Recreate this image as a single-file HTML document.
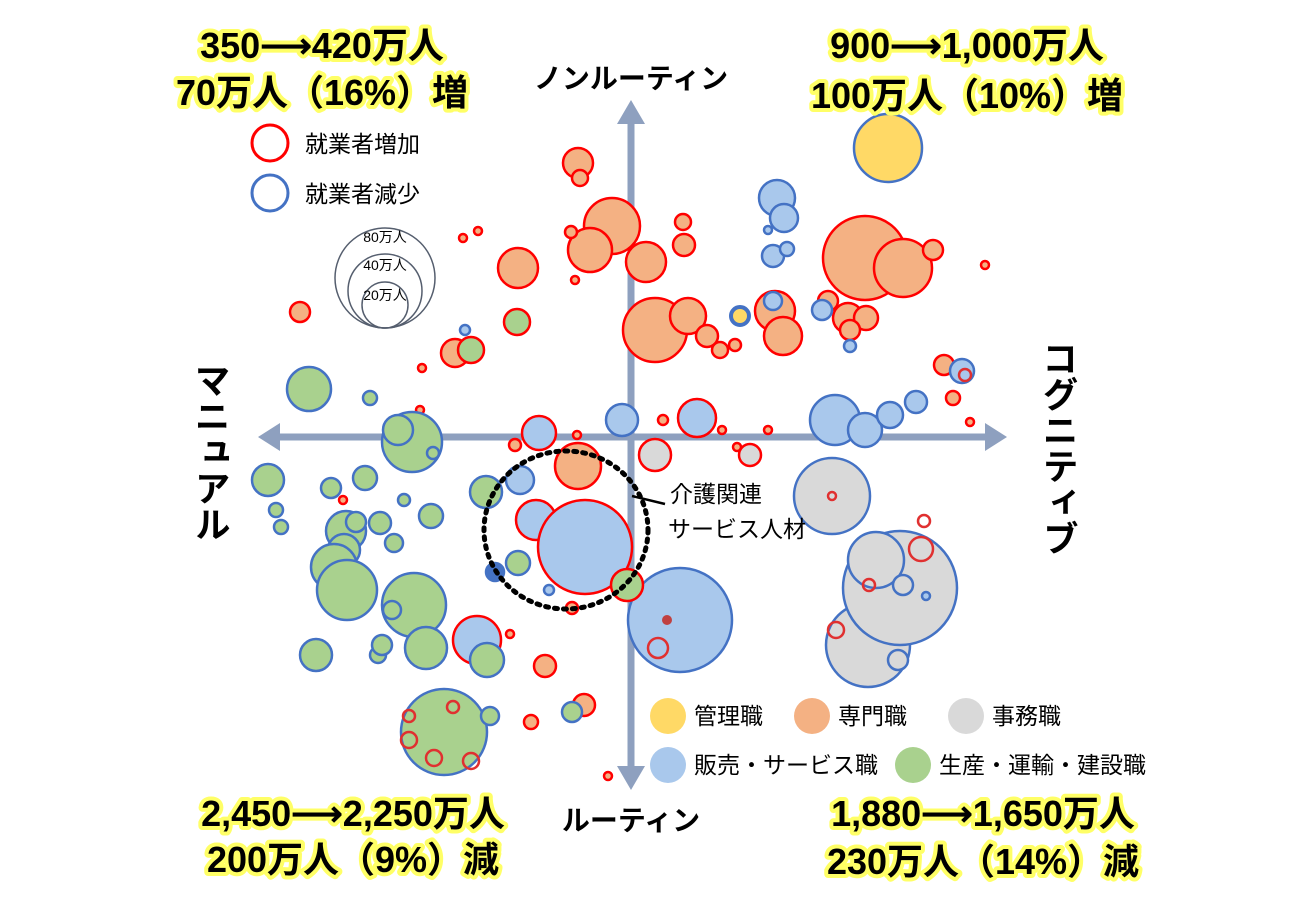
<!DOCTYPE html>
<html><head><meta charset="utf-8"><style>
html,body{margin:0;padding:0;background:#fff;}
svg text{font-family:"Liberation Sans","Noto Sans CJK JP",sans-serif;}
.big{font-size:36px;font-weight:bold;fill:#000;paint-order:stroke;stroke:#ffff66;stroke-width:8px;stroke-linejoin:round;}
</style></head><body>
<svg width="1300" height="900" viewBox="0 0 1300 900" xmlns="http://www.w3.org/2000/svg">
<g stroke="#8ea0bf" stroke-width="7">
<line x1="275" y1="437" x2="990" y2="437"/>
<line x1="631" y1="120" x2="631" y2="770"/>
</g>
<g fill="#8ea0bf">
<polygon points="258,437 280,423 280,451"/>
<polygon points="1007,437 985,423 985,451"/>
<polygon points="631,100 617,124 645,124"/>
<polygon points="631,790 617,766 645,766"/>
</g>
<g id="b" stroke-width="2.5">
<circle cx="888" cy="148" r="34" fill="#ffd966" stroke="#4472c4"/>
<g fill="#f4b183" stroke="#ff0000">
<circle cx="578" cy="163" r="15"/><circle cx="580" cy="178" r="8"/><circle cx="612" cy="226" r="28"/><circle cx="590" cy="250" r="22"/><circle cx="518" cy="268" r="20"/><circle cx="646" cy="262" r="20"/><circle cx="683" cy="222" r="8"/><circle cx="684" cy="245" r="11"/><circle cx="655" cy="330" r="32"/><circle cx="688" cy="316" r="18"/><circle cx="707" cy="336" r="11"/><circle cx="720" cy="350" r="8"/><circle cx="735" cy="345" r="6"/><circle cx="775" cy="311" r="20"/><circle cx="783" cy="336" r="19"/><circle cx="865" cy="258" r="42"/><circle cx="903" cy="268" r="29"/><circle cx="933" cy="250" r="10"/><circle cx="985" cy="265" r="4"/><circle cx="463" cy="238" r="4"/><circle cx="478" cy="231" r="4"/><circle cx="571" cy="232" r="6"/><circle cx="575" cy="280" r="4"/><circle cx="300" cy="312" r="10"/><circle cx="455" cy="353" r="14"/><circle cx="422" cy="368" r="4"/><circle cx="944" cy="365" r="10"/><circle cx="953" cy="398" r="7"/><circle cx="970" cy="422" r="4"/><circle cx="663" cy="420" r="5"/><circle cx="722" cy="430" r="4"/><circle cx="737" cy="447" r="4"/><circle cx="768" cy="430" r="4"/><circle cx="828" cy="301" r="10"/><circle cx="848" cy="318" r="15"/><circle cx="866" cy="318" r="12"/><circle cx="850" cy="330" r="10"/><circle cx="577" cy="435" r="4"/><circle cx="515" cy="445" r="6"/><circle cx="578" cy="466" r="23"/><circle cx="545" cy="666" r="11"/><circle cx="584" cy="705" r="11"/><circle cx="531" cy="722" r="7"/><circle cx="608" cy="776" r="4"/><circle cx="343" cy="500" r="4"/><circle cx="349" cy="518" r="4"/><circle cx="420" cy="410" r="4"/><circle cx="572" cy="608" r="6"/><circle cx="510" cy="634" r="4"/>
</g>
<g fill="#d9d9d9">
<circle cx="832" cy="496" r="38" stroke="#4472c4"/><circle cx="868" cy="645" r="42" stroke="#4472c4"/><circle cx="900" cy="588" r="57" stroke="#4472c4"/><circle cx="876" cy="560" r="28" stroke="#4472c4"/><circle cx="898" cy="660" r="10" stroke="#4472c4"/><circle cx="903" cy="585" r="10" stroke="#4472c4"/><circle cx="655" cy="455" r="16" stroke="#ff0000"/><circle cx="750" cy="455" r="11" stroke="#ff0000"/>
</g>
<g fill="#a9c8ec" stroke="#4472c4">
<circle cx="777" cy="198" r="18"/><circle cx="784" cy="218" r="14"/><circle cx="773" cy="256" r="11"/><circle cx="787" cy="249" r="7"/><circle cx="773" cy="301" r="9"/><circle cx="822" cy="310" r="10"/><circle cx="850" cy="346" r="6"/><circle cx="835" cy="420" r="25"/><circle cx="865" cy="430" r="17"/><circle cx="890" cy="415" r="13"/><circle cx="916" cy="402" r="11"/><circle cx="962" cy="371" r="12"/><circle cx="622" cy="420" r="16"/><circle cx="520" cy="480" r="14"/><circle cx="549" cy="590" r="5"/><circle cx="680" cy="620" r="52"/><circle cx="495" cy="572" r="9" fill="#4472c4"/><circle cx="465" cy="330" r="5"/><circle cx="768" cy="230" r="4"/><circle cx="926" cy="596" r="4"/>
</g>
<g fill="#a9c8ec" stroke="#ff0000">
<circle cx="697" cy="418" r="19"/><circle cx="539" cy="433" r="17"/><circle cx="536" cy="520" r="20"/><circle cx="585" cy="547" r="47"/><circle cx="477" cy="640" r="24"/>
</g>
<circle cx="740" cy="316" r="9" fill="#ffd966" stroke="#4472c4" stroke-width="4"/>
<g fill="#a9d18e" stroke="#4472c4">
<circle cx="309" cy="389" r="22"/><circle cx="370" cy="398" r="7"/><circle cx="412" cy="442" r="30"/><circle cx="398" cy="430" r="15"/><circle cx="268" cy="480" r="16"/><circle cx="331" cy="488" r="10"/><circle cx="365" cy="478" r="12"/><circle cx="404" cy="500" r="6"/><circle cx="431" cy="516" r="12"/><circle cx="276" cy="510" r="7"/><circle cx="281" cy="527" r="7"/><circle cx="346" cy="531" r="20"/><circle cx="356" cy="522" r="10"/><circle cx="380" cy="523" r="11"/><circle cx="394" cy="543" r="9"/><circle cx="344" cy="550" r="16"/><circle cx="334" cy="567" r="23"/><circle cx="347" cy="590" r="30"/><circle cx="414" cy="605" r="32"/><circle cx="392" cy="610" r="9"/><circle cx="426" cy="648" r="21"/><circle cx="316" cy="655" r="16"/><circle cx="378" cy="655" r="8"/><circle cx="382" cy="645" r="10"/><circle cx="486" cy="492" r="16"/><circle cx="433" cy="453" r="6"/><circle cx="518" cy="563" r="12"/><circle cx="444" cy="732" r="43"/><circle cx="572" cy="712" r="10"/><circle cx="490" cy="716" r="9"/><circle cx="487" cy="660" r="17"/>
</g>
<g fill="#a9d18e" stroke="#ff0000"><circle cx="517" cy="322" r="13"/><circle cx="471" cy="350" r="13"/><circle cx="627" cy="585" r="16"/></g>
<g fill="none" stroke="#e03030">
<circle cx="924" cy="521" r="6"/><circle cx="921" cy="549" r="12"/><circle cx="836" cy="630" r="8"/><circle cx="658" cy="648" r="10"/><circle cx="409" cy="716" r="6"/><circle cx="453" cy="707" r="6"/><circle cx="409" cy="740" r="8"/><circle cx="434" cy="758" r="8"/><circle cx="471" cy="761" r="8"/><circle cx="832" cy="496" r="4"/><circle cx="869" cy="585" r="6"/><circle cx="965" cy="375" r="6"/>
</g>
<circle cx="667" cy="620" r="5" fill="#c04040"/>
</g>
<ellipse cx="566" cy="530" rx="82" ry="79" fill="none" stroke="#000" stroke-width="5" stroke-dasharray="3,6" stroke-linecap="round"/>
<line x1="632" y1="496" x2="665" y2="504" stroke="#000" stroke-width="2.5"/>
<text x="670" y="502" font-size="23">介護関連</text>
<text x="668" y="537" font-size="23">サービス人材</text>
<circle cx="270" cy="143" r="18" fill="#fff" stroke="#ff0000" stroke-width="3"/>
<circle cx="270" cy="193" r="18" fill="#fff" stroke="#4472c4" stroke-width="3"/>
<text x="305" y="152" font-size="23">就業者増加</text>
<text x="305" y="202" font-size="23">就業者減少</text>
<g fill="none" stroke="#555e6e" stroke-width="1.5">
<circle cx="385" cy="278" r="50"/><circle cx="385" cy="291" r="37"/><circle cx="385" cy="305" r="23"/>
</g>
<g font-size="14" text-anchor="middle"><text x="385" y="242">80万人</text><text x="385" y="270">40万人</text><text x="385" y="300">20万人</text></g>
<g stroke-width="0">
<circle cx="668" cy="716" r="18" fill="#ffd966"/><circle cx="812" cy="716" r="18" fill="#f4b183"/><circle cx="966" cy="716" r="18" fill="#d9d9d9"/><circle cx="668" cy="765" r="18" fill="#a9c8ec"/><circle cx="913" cy="765" r="18" fill="#a9d18e"/>
</g>
<g font-size="23"><text x="694" y="724">管理職</text><text x="838" y="724">専門職</text><text x="992" y="724">事務職</text><text x="694" y="773">販売・サービス職</text><text x="939" y="773">生産・運輸・建設職</text></g>
<g font-weight="bold" font-size="28" text-anchor="middle">
<text x="631" y="88">ノンルーティン</text>
<text x="631" y="830">ルーティン</text>
</g>
<text font-weight="bold" font-size="36" x="210" y="362" style="writing-mode:vertical-rl">マニュアル</text>
<text font-weight="bold" font-size="36" x="1058" y="340" style="writing-mode:vertical-rl">コグニティブ</text>
<g class="big" text-anchor="middle">
<text x="322" y="58">350⟶420万人</text><text x="322" y="105">70万人（16%）増</text>
<text x="967" y="58">900⟶1,000万人</text><text x="967" y="108">100万人（10%）増</text>
<text x="353" y="826">2,450⟶2,250万人</text><text x="353" y="872">200万人（9%）減</text>
<text x="983" y="826">1,880⟶1,650万人</text><text x="983" y="874">230万人（14%）減</text>
</g>
</svg>
</body></html>
